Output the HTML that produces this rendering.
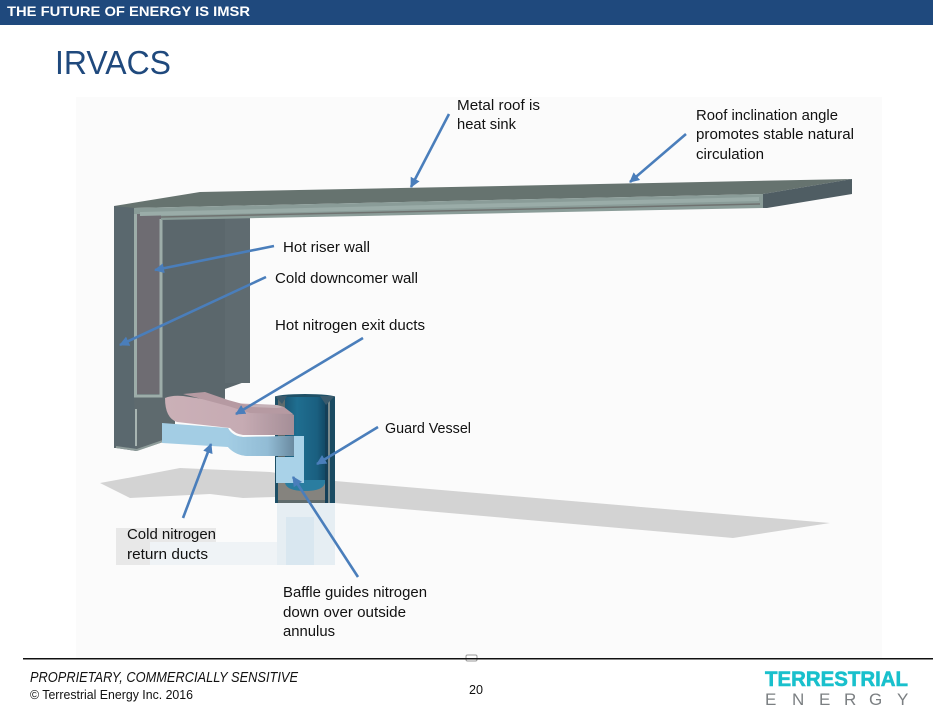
<!DOCTYPE html>
<html><head><meta charset="utf-8"><style>
html,body{margin:0;padding:0;background:#fff;width:933px;height:715px;overflow:hidden}
svg{display:block}
text{font-family:"Liberation Sans",sans-serif;fill:#111}
.l{font-size:15px}
</style></head><body>
<svg width="933" height="715" viewBox="0 0 933 715" xmlns="http://www.w3.org/2000/svg">
<defs>
<marker id="a" markerUnits="userSpaceOnUse" markerWidth="12" markerHeight="12" refX="9" refY="5" orient="auto"><path d="M0 0L10 5L0 10Z" fill="#4a7ebb"/></marker>
<linearGradient id="bv" x1="0" x2="1" y1="0" y2="0"><stop offset="0" stop-color="#1a5876"/><stop offset=".3" stop-color="#1f6e90"/><stop offset=".8" stop-color="#1a5f80"/><stop offset="1" stop-color="#134a66"/></linearGradient>
<linearGradient id="pk" x1="0" x2="1" y1="0" y2="0"><stop offset="0" stop-color="#cbb0b7"/><stop offset=".6" stop-color="#c6abb3"/><stop offset="1" stop-color="#a58e97"/></linearGradient>
<linearGradient id="bl" x1="0" x2="1" y1="0" y2="0"><stop offset="0" stop-color="#a3cde4"/><stop offset=".6" stop-color="#92bcd5"/><stop offset="1" stop-color="#6a8aa0"/></linearGradient>
</defs>
<rect width="933" height="715" fill="#fff"/>
<rect width="933" height="25" fill="#1f497d"/>
<text x="7" y="16" font-size="14" font-weight="bold" style="fill:#fff" textLength="243" lengthAdjust="spacingAndGlyphs">THE FUTURE OF ENERGY IS IMSR</text>
<text x="55" y="74" font-size="33" style="fill:#1f497d" textLength="116" lengthAdjust="spacingAndGlyphs">IRVACS</text>

<rect x="76" y="97" width="806" height="561" fill="#fbfbfb"/>
<rect x="466" y="655" width="11" height="6" rx="1.5" fill="#fff" stroke="#999"/>

<!-- shadow -->
<path d="M100 483L133 477L180 468L270 472L335 481L830 523L733 538L335 503L275 497L243 498L210 494L130 498Z" fill="#d3d3d3"/>
<!-- reflection -->
<rect x="116" y="528" width="100" height="37" fill="#e8e8e8"/>
<rect x="150" y="542" width="127" height="23" fill="#eff3f6"/>
<rect x="277" y="503" width="58" height="62" fill="#e6eef3"/>
<rect x="286" y="517" width="28" height="48" fill="#d9e7f0"/>

<!-- inner dark panel -->
<path d="M137 214L250 217V380L225 389V400L137 400Z" fill="#5b676c"/>
<rect x="225" y="218" width="25" height="165" fill="#5f6b70"/>
<!-- outer wall -->
<path d="M114 206L134 206L136 451L116 448L114 448Z" fill="#5a686e"/>
<path d="M134 397H225V408L175 412V438L136 451Z" fill="#5e6a6e"/>
<!-- riser -->
<rect x="137" y="213" width="24" height="181" fill="#6e6c72"/>
<path d="M135.500 210V396H161V219" fill="none" stroke="#9dada9" stroke-width="3"/>
<path d="M136 409V446" stroke="#a8b5b2" stroke-width="2"/>
<path d="M116 447L137 450L163 441" fill="none" stroke="#8e9c9a" stroke-width="2"/>

<!-- roof -->
<path d="M114 206L200 192L852 179L763 194L134 208Z" fill="#66736f"/>
<path d="M134 208L763 194V208L161 220V214L134 214Z" fill="#8a9c98"/>
<path d="M140 212L759 197V201L140 216Z" fill="#9aaca8"/>
<path d="M161 217L760 204" stroke="#6f7270" stroke-width="1.5"/>
<path d="M763 194L852 179V194L767 208H763Z" fill="#4f5d63"/>

<!-- vessel -->
<path d="M277 397H335V503H277Z" fill="#5f6b6c"/>
<ellipse cx="305" cy="397" rx="30" ry="3" fill="#1f5066"/>
<rect x="285" y="397" width="40" height="85" fill="url(#bv)"/>
<path d="M277 483H325V500H277Z" fill="#85837e"/>
<path d="M285 480V483Q287 491 305 491Q323 491 325 483V480Z" fill="#2a7da0"/>
<rect x="275" y="397" width="3" height="106" fill="#1d4f66"/>
<rect x="325" y="397" width="3" height="106" fill="#143f58"/>
<rect x="328" y="397" width="2" height="106" fill="#7b8a8c"/>
<rect x="330" y="397" width="5" height="106" fill="#1a4b62"/>
<path d="M275 396L287 396L282 404ZM320 396L335 396L326 405Z" fill="#3a5a6c"/>

<!-- blue duct -->
<path d="M162 423L228 428Q232 436 243 437L294 436V456H247Q235 455 228 447L162 443Z" fill="#a3cde4"/>
<path d="M228 428Q232 436 243 437L294 436V456H247Q235 455 228 447Z" fill="url(#bl)"/>
<path d="M276 436H304V483H276V457H294V436Z" fill="#a9d2e8"/>
<!-- pink duct -->
<path d="M165 398Q172 395 183 396L230 403L277 405L294 415V435H243Q235 434 230 428L177 422Q165 418 165 398Z" fill="url(#pk)"/>
<path d="M183 394L205 392L228 400L250 406L284 407L293 414L250 413L228 406Z" fill="#b69aa2"/>
<path d="M250 407L277 408L284 407L277 405H250Z" fill="#c6b2b8"/>

<!-- arrows -->
<g stroke="#4a7ebb" stroke-width="2.6" fill="none" marker-end="url(#a)">
<path d="M449 114L411 187"/>
<path d="M686 134L630 182"/>
<path d="M274 246L155 270"/>
<path d="M266 277L120 345"/>
<path d="M363 338L236 414"/>
<path d="M378 427L317 464"/>
<path d="M183 518L211 444"/>
<path d="M358 577L293 477"/>
</g>

<!-- labels -->
<g>
<text class="l" x="457" y="110" textLength="83" lengthAdjust="spacingAndGlyphs">Metal roof is</text>
<text class="l" x="457" y="129" textLength="59" lengthAdjust="spacingAndGlyphs">heat sink</text>
<text class="l" x="696" y="120" textLength="142" lengthAdjust="spacingAndGlyphs">Roof inclination angle</text>
<text class="l" x="696" y="139" textLength="158" lengthAdjust="spacingAndGlyphs">promotes stable natural</text>
<text class="l" x="696" y="159" textLength="68" lengthAdjust="spacingAndGlyphs">circulation</text>
<text class="l" x="283" y="252" textLength="87" lengthAdjust="spacingAndGlyphs">Hot riser wall</text>
<text class="l" x="275" y="283" textLength="143" lengthAdjust="spacingAndGlyphs">Cold downcomer wall</text>
<text class="l" x="275" y="330" textLength="150" lengthAdjust="spacingAndGlyphs">Hot nitrogen exit ducts</text>
<text class="l" x="385" y="433" textLength="86" lengthAdjust="spacingAndGlyphs">Guard Vessel</text>
<text class="l" x="127" y="539" textLength="89" lengthAdjust="spacingAndGlyphs">Cold nitrogen</text>
<text class="l" x="127" y="559" textLength="81" lengthAdjust="spacingAndGlyphs">return ducts</text>
<text class="l" x="283" y="597" textLength="144" lengthAdjust="spacingAndGlyphs">Baffle guides nitrogen</text>
<text class="l" x="283" y="617" textLength="123" lengthAdjust="spacingAndGlyphs">down over outside</text>
<text class="l" x="283" y="636" textLength="52" lengthAdjust="spacingAndGlyphs">annulus</text>
</g>

<!-- footer -->
<rect x="23" y="658" width="910" height="1.5" fill="#111"/>
<text x="30" y="682" font-size="15" font-style="italic" textLength="268" lengthAdjust="spacingAndGlyphs">PROPRIETARY, COMMERCIALLY SENSITIVE</text>
<text x="30" y="699" font-size="13" textLength="163" lengthAdjust="spacingAndGlyphs">© Terrestrial Energy Inc. 2016</text>
<text x="469" y="694" font-size="13" textLength="14" lengthAdjust="spacingAndGlyphs">20</text>
<text x="765" y="686" font-size="21" font-weight="bold" style="fill:#19c0cc;stroke:#19c0cc;stroke-width:.6" textLength="143" lengthAdjust="spacingAndGlyphs">TERRESTRIAL</text>
<text y="705" font-size="17" style="fill:#7b7f82" x="765 792 819 844 869 897">ENERGY</text>
</svg>
</body></html>
